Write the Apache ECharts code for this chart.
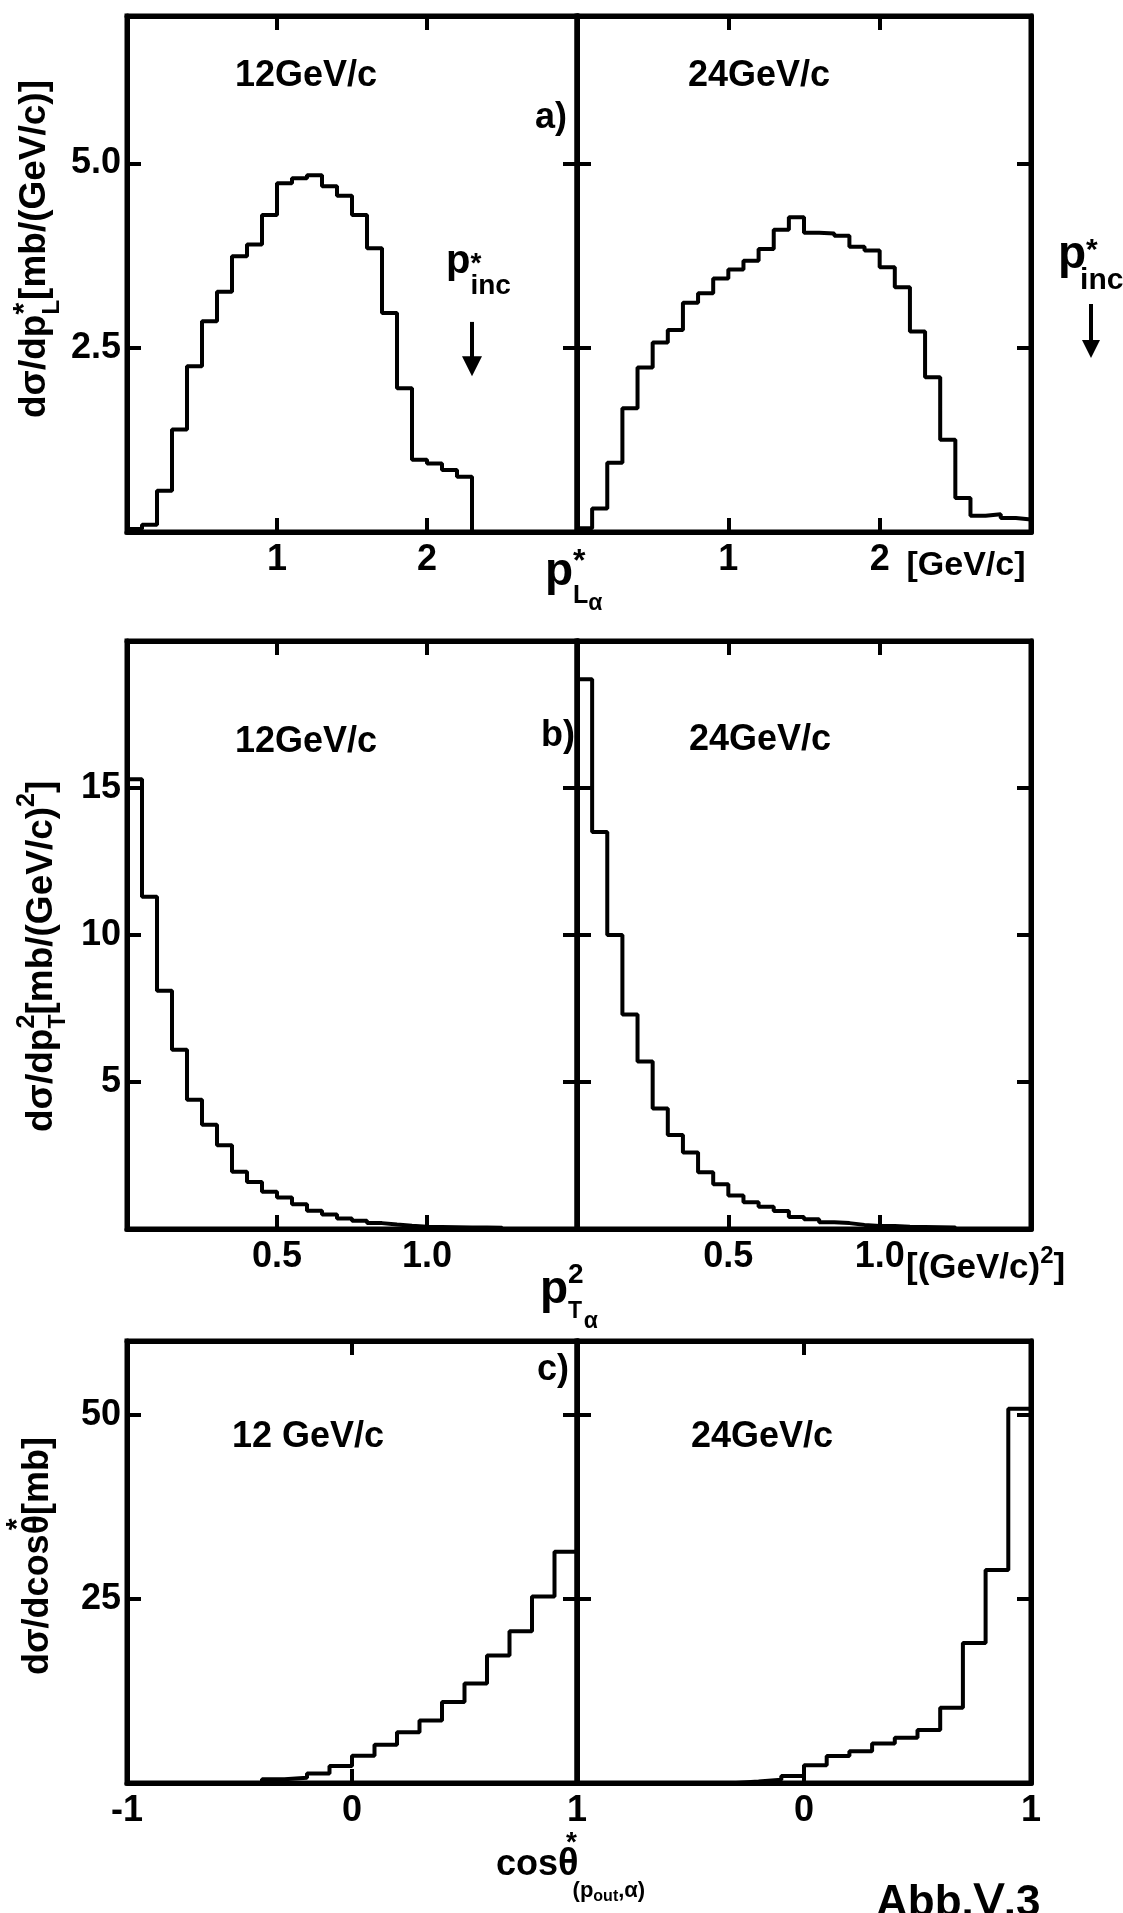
<!DOCTYPE html>
<html>
<head>
<meta charset="utf-8">
<script src="https://cdn.jsdelivr.net/npm/echarts@6/dist/echarts.min.js"></script>
<style>
  html, body { margin: 0; padding: 0; background: #fff; }
  #chart { width: 1123px; height: 1913px; }
</style>
</head>
<body>
<div id="chart"></div>
<script>
// bin widths
var binA = 0.1, binB = 0.05, binC = 0.1;

// a) dσ/dp*_L  (12 and 24 GeV/c)
var a12Start = 0;
var a12Values = [0.04, 0.1, 0.56, 1.39, 2.25, 2.86, 3.26, 3.74, 3.90, 4.30, 4.73, 4.80, 4.84, 4.69, 4.56, 4.30, 3.85, 2.97, 1.95, 0.98, 0.93, 0.84, 0.75];
var a24Start = 0;
var a24Values = [0.05, 0.32, 0.94, 1.68, 2.23, 2.57, 2.74, 3.11, 3.24, 3.44, 3.56, 3.68, 3.84, 4.10, 4.27, 4.06, 4.05, 4.02, 3.87, 3.82, 3.59, 3.32, 2.72, 2.10, 1.25, 0.46, 0.22, 0.24, 0.19, 0.17];

// b) dσ/dp_T^2
var b12Start = 0;
var b12Values = [15.3, 11.3, 8.1, 6.1, 4.4, 3.55, 2.85, 1.95, 1.6, 1.27, 1.07, 0.84, 0.62, 0.49, 0.36, 0.28, 0.2, 0.15, 0.11, 0.08, 0.07, 0.06, 0.05, 0.05, 0.04];
var b24Start = 0;
var b24Values = [18.7, 13.5, 10.0, 7.3, 5.7, 4.1, 3.2, 2.6, 1.93, 1.52, 1.14, 0.91, 0.76, 0.61, 0.41, 0.33, 0.23, 0.2, 0.14, 0.1, 0.1, 0.08, 0.07, 0.06, 0.05];

// c) dσ/dcosθ*
var c12Start = -0.4;
var c12Values = [0.5, 0.7, 1.3, 2.3, 3.7, 5.2, 6.9, 8.5, 11.0, 13.5, 17.3, 20.6, 25.3, 31.4];
var c24Start = -0.3;
var c24Values = [0.2, 0.45, 0.95, 2.4, 3.65, 4.3, 5.35, 6.15, 7.2, 10.2, 19.0, 28.9, 50.8];

// p*_inc arrow (12 GeV/c panel), in data units
var pIncX = 2.3;
var pIncArrow = [2.85, 2.25];

// tick labels
var aXLabels = [1, 2];
var aYLabels = [2.5, 5.0];
var bXLabels = [0.5, 1.0];
var bYLabels = [5, 10, 15];
var cXLabelsLeft = [-1, 0, 1];
var cXLabelsRight = [0, 1];
var cYLabels = [25, 50];

var FONT = "'Liberation Sans', Arial, Helvetica, sans-serif";
var ctx = document.createElement('canvas').getContext('2d');

function histogram(start, width, values) {
    var pts = [[start, 0]];
    values.forEach(function (v, i) {
        pts.push([+(start + i * width).toFixed(4), v]);
    });
    var end = +(start + values.length * width).toFixed(4);
    pts.push([end, values[values.length - 1]]);
    pts.push([end, 0]);
    return pts;
}

function pick(labels, fmt) {
    return function (v) {
        var r = Math.round(v * 1000) / 1000;
        return labels && labels.indexOf(r) >= 0 ? fmt(r) : '';
    };
}

var grids = [
    {left: 127, top: 16, width: 450, height: 516},
    {left: 577, top: 16, width: 454, height: 516},
    {left: 127, top: 641, width: 450, height: 588},
    {left: 577, top: 641, width: 454, height: 588},
    {left: 127, top: 1341, width: 450, height: 442},
    {left: 577, top: 1341, width: 454, height: 442}
];

var fmtInt = function (v) { return String(v); };
var fmt1 = function (v) { return v.toFixed(1); };

var panels = [
    {x: [0, 3, 1], y: [0, 7, 2.5], xl: aXLabels, xf: fmtInt, yl: aYLabels, yf: fmt1, data: histogram(a12Start, binA, a12Values)},
    {x: [0, 3, 1], y: [0, 7, 2.5], xl: aXLabels, xf: fmtInt, yl: null, yf: fmt1, data: histogram(a24Start, binA, a24Values)},
    {x: [0, 1.5, 0.5], y: [0, 20, 5], xl: bXLabels, xf: fmt1, yl: bYLabels, yf: fmtInt, data: histogram(b12Start, binB, b12Values)},
    {x: [0, 1.5, 0.5], y: [0, 20, 5], xl: bXLabels, xf: fmt1, yl: null, yf: fmtInt, data: histogram(b24Start, binB, b24Values)},
    {x: [-1, 1, 1], y: [0, 60, 25], xl: cXLabelsLeft, xf: fmtInt, yl: cYLabels, yf: fmtInt, data: histogram(c12Start, binC, c12Values)},
    {x: [-1, 1, 1], y: [0, 60, 25], xl: cXLabelsRight, xf: fmtInt, yl: null, yf: fmtInt, data: histogram(c24Start, binC, c24Values)}
];

function axis(pos, gi, r, labels, fmt, margin) {
    return {
        type: 'value', gridIndex: gi, position: pos,
        min: r[0], max: r[1], interval: r[2],
        axisLine: {show: true, onZero: false, lineStyle: {color: '#000', width: 5}},
        axisTick: {show: true, inside: true, length: 14, lineStyle: {color: '#000', width: 4}},
        splitLine: {show: false},
        axisLabel: {
            show: !!labels, margin: margin, color: '#000',
            fontFamily: FONT, fontSize: 36, fontWeight: 'bold',
            formatter: pick(labels, fmt)
        }
    };
}

var xAxes = [], yAxes = [], series = [];
panels.forEach(function (p, g) {
    xAxes.push(axis('bottom', g, p.x, p.xl, p.xf, 10));
    xAxes.push(axis('top', g, p.x, null, p.xf, 10));
    yAxes.push(axis('left', g, p.y, p.yl, p.yf, 6));
    yAxes.push(axis('right', g, p.y, null, p.yf, 6));
    var s = {
        type: 'line', xAxisIndex: 2 * g, yAxisIndex: 2 * g,
        data: p.data, step: 'end', symbol: 'none', silent: true,
        lineStyle: {color: '#000', width: 4}
    };
    if (g === 0) {
        s.markLine = {
            silent: true, symbol: ['none', 'triangle'], symbolSize: 20,
            label: {show: false},
            lineStyle: {color: '#000', width: 4, type: 'solid'},
            data: [[{coord: [pIncX, pIncArrow[0]]}, {coord: [pIncX, pIncArrow[1]]}]]
        };
    }
    series.push(s);
});

function txt(x, y, s, size, align) {
    return {
        type: 'text', x: x, y: y, silent: true,
        style: {
            text: s, font: 'bold ' + size + 'px ' + FONT, fill: '#000',
            textAlign: align || 'center', textVerticalAlign: 'middle',
            align: align || 'center', verticalAlign: 'middle'
        }
    };
}

// sequence of text runs with sub/superscripts, optionally rotated
function runs(x, y, rot, parts) {
    var cx = 0, prevX = 0, children = [];
    parts.forEach(function (p) {
        var font = 'bold ' + p.s + 'px ' + FONT;
        ctx.font = font;
        var w = ctx.measureText(p.t).width;
        var px = p.stack ? prevX : cx;
        px += p.dx || 0;
        children.push({
            type: 'text', x: px, y: p.dy || 0, silent: true,
            style: {text: p.t, font: font, fill: '#000', textAlign: 'left', textVerticalAlign: 'middle', align: 'left', verticalAlign: 'middle'}
        });
        prevX = px;
        cx = Math.max(cx, px + w);
    });
    return {type: 'group', x: x, y: y, rotation: rot, children: children};
}

var R = Math.PI / 2;
var graphics = [
    txt(306, 76, '12GeV/c', 36), txt(759, 76, '24GeV/c', 36), txt(551, 118, 'a)', 36),
    txt(306, 742, '12GeV/c', 36), txt(760, 740, '24GeV/c', 36), txt(558, 736, 'b)', 36),
    txt(308, 1437, '12 GeV/c', 36), txt(762, 1437, '24GeV/c', 36), txt(553, 1370, 'c)', 36),
    txt(966, 566, '[GeV/c]', 34),
    runs(906, 1268, 0, [{t: '[(GeV/c)', s: 35}, {t: '2', s: 24, dy: -12}, {t: ']', s: 35}]),
    // y titles
    runs(35, 418, R, [{t: 'dσ/dp', s: 37}, {t: '*', s: 30, dy: -10}, {t: 'L', s: 24, dy: 17, stack: true}, {t: '[mb/(GeV/c)]', s: 37}]),
    runs(42, 1132, R, [{t: 'dσ/dp', s: 37}, {t: '2', s: 25, dy: -15}, {t: 'T', s: 23, dy: 17, stack: true}, {t: '[mb/(GeV/c)', s: 37}, {t: '2', s: 25, dy: -15}, {t: ']', s: 37}]),
    runs(38, 1675, R, [{t: 'dσ/dcos', s: 36}, {t: 'θ', s: 36}, {t: '*', s: 30, dy: -20, stack: true, dx: 4}, {t: '[mb]', s: 36}]),
    // x titles
    runs(545, 572, 0, [{t: 'p', s: 46}, {t: '*', s: 32, dy: -10}, {t: 'L', s: 25, dy: 24, stack: true}, {t: 'α', s: 23, dy: 32}]),
    runs(540, 1290, 0, [{t: 'p', s: 46}, {t: '2', s: 28, dy: -15}, {t: 'T', s: 23, dy: 22, stack: true}, {t: 'α', s: 23, dy: 32}]),
    runs(496, 1865, 0, [{t: 'cos', s: 36}, {t: 'θ', s: 38}, {t: '*', s: 28, dy: -22, stack: true, dx: 8}, {t: '(p', s: 22, dy: 26, dx: -6}, {t: 'out', s: 16, dy: 32}, {t: ',α)', s: 22, dy: 26}]),
    // p*_inc markers
    runs(446, 262, 0, [{t: 'p', s: 40}, {t: '*', s: 28, dy: 2}, {t: 'inc', s: 28, dy: 24, stack: true}]),
    runs(1058, 255, 0, [{t: 'p', s: 46}, {t: '*', s: 30, dy: -4}, {t: 'inc', s: 30, dy: 26, stack: true, dx: -6}]),
    {type: 'line', silent: true, shape: {x1: 1091, y1: 304, x2: 1091, y2: 344}, style: {stroke: '#000', lineWidth: 4}},
    {type: 'polygon', silent: true, shape: {points: [[1082, 340], [1100, 340], [1091, 358]]}, style: {fill: '#000'}},
    txt(876, 1904, 'Abb.Ⅴ.3', 44, 'left')
];

var chart = echarts.init(document.getElementById('chart'), null, {renderer: 'canvas'});
chart.setOption({
    animation: false,
    backgroundColor: '#fff',
    grid: grids.map(function (g) {
        return {left: g.left, top: g.top, width: g.width, height: g.height, containLabel: false, show: true, borderColor: '#000', borderWidth: 5, backgroundColor: 'transparent'};
    }),
    xAxis: xAxes,
    yAxis: yAxes,
    series: series,
    graphic: {elements: graphics}
});
</script>
</body>
</html>
